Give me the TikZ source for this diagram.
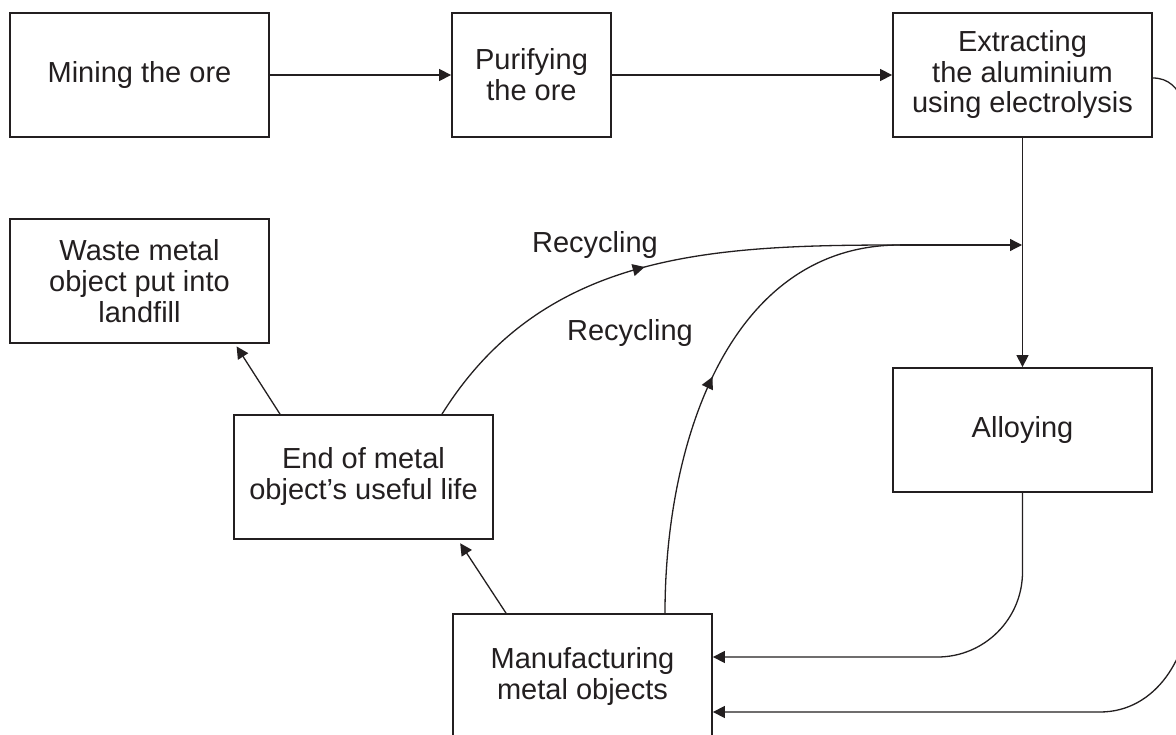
\documentclass[tikz,border=0pt]{standalone}
\usepackage{fontspec}
\setmainfont{Liberation Sans}
\usetikzlibrary{arrows.meta,decorations.markings}
\definecolor{ink}{HTML}{231F20}
\begin{document}
\begin{tikzpicture}[x=1pt,y=-1pt,
  box/.style={draw=ink, line width=1.8pt, minimum width=259pt, minimum height=124pt,
    align=center, inner sep=2pt, text=ink, font=\fontsize{29}{31}\selectfont},
  conn/.style={draw=ink, line width=1.3pt},
  tip/.style={-{Triangle[length=12pt,width=12pt]}},
  midarrow/.style={postaction={decorate}, decoration={markings,
    mark=at position #1 with {\arrow{Triangle[length=12pt,width=12pt]}}}},
  lbl/.style={text=ink, font=\fontsize{29}{31}\selectfont, inner sep=0pt}
]
\useasboundingbox (0,0) rectangle (1176,735);
\fill[white] (0,0) rectangle (1176,735);

\node[box] (mine) at (139.5,75) {Mining the ore};
\node[box, minimum width=159pt] (puri) at (531.5,75) {Purifying\\the ore};
\node[box, font=\fontsize{29}{30.5}\selectfont] (ext) at (1022.5,75) {Extracting\\the aluminium\\using electrolysis};
\node[box] (waste) at (139.5,281) {Waste metal\\object put into\\landfill};
\node[box] (alloy) at (1022.5,430) {Alloying};
\node[box] (eol) at (363.5,477) {End of metal\\object’s useful life};
\node[box] (manu) at (582.5,676) {Manufacturing\\metal objects};

\node[lbl] (rec1) at (595,245) {Recycling};
\node[lbl] (rec2) at (630,333) {Recycling};

\coordinate (merge) at (900,245);
\coordinate (join) at (1022,245);

\draw[conn,tip] (mine.east) -- (puri.west);
\draw[conn,tip] (puri.east) -- (ext.west);
\draw[conn,tip] (ext.south) -- (alloy.north);
\draw[conn,tip] (merge) -- (join);

\draw[conn,midarrow=0.5] ([xshift=78.5pt]eol.north) to[out=58,in=180] (merge);
\draw[conn,midarrow=0.5] ([xshift=82.5pt]manu.north) to[out=90,in=180] (merge);

\draw[conn,tip,shorten >=3pt] ([xshift=-83.5pt]eol.north) -- ([xshift=95.5pt]waste.south);
\draw[conn,tip,shorten >=4pt] ([xshift=-76.5pt]manu.north) -- ([xshift=94.5pt]eol.south);

\draw[conn,tip,rounded corners=85pt] (alloy.south) |- (manu.east |- 0,657);
\draw[conn,tip] (ext.east |- 0,78) to[out=0,in=90] (1190,150) -- (1190,600)
  to[out=-90,in=0] (1100,712) -- (manu.east |- 0,712);
\end{tikzpicture}
\end{document}
